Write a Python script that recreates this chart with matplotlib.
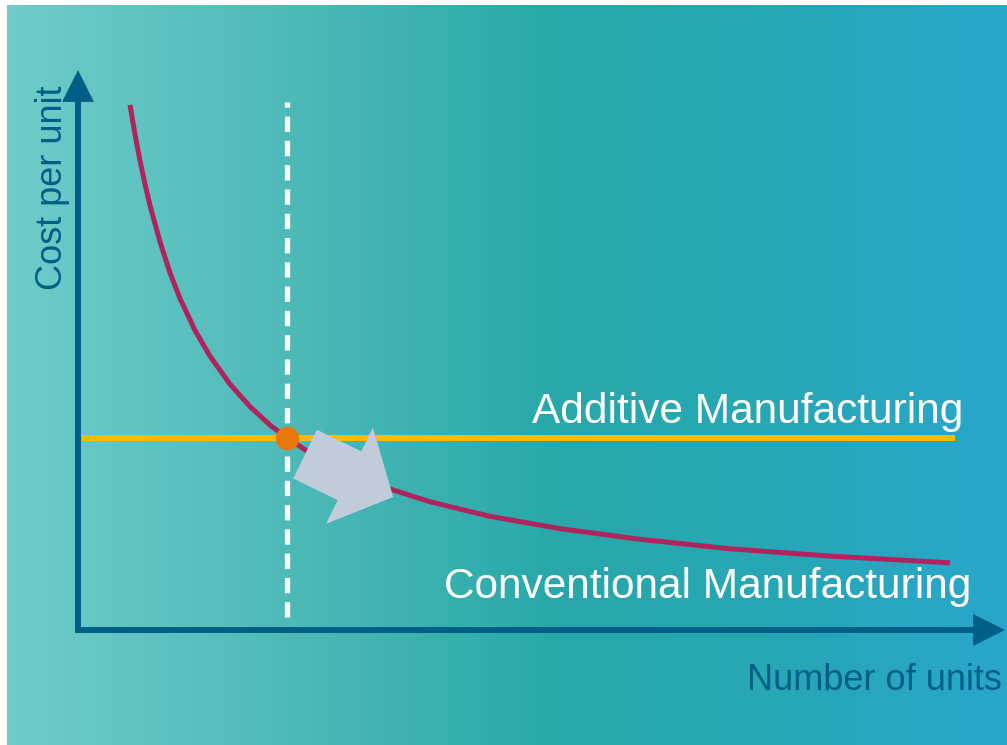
import matplotlib
matplotlib.use("Agg")
import matplotlib.pyplot as plt
import numpy as np
from matplotlib.colors import LinearSegmentedColormap
from matplotlib.patches import FancyArrowPatch

plt.rcParams['font.family'] = ['Liberation Sans', 'DejaVu Sans']

# conventional manufacturing: cost per unit vs number of units
conv_units = [5.61, 5.83, 6.15, 6.69, 7.23, 7.77, 8.85, 9.92, 11.0, 12.62, 14.24, 16.4, 18.55,
              20.71, 22.55, 25.03, 28.26, 32.58, 37.97, 44.44, 51.99, 60.63, 70.33, 81.12, 94.07]
conv_cost = [93.75, 91.6, 88.5, 83.8, 79.6, 75.8, 69.3, 63.8, 59.2, 53.5, 48.9, 43.9, 39.9,
             36.6, 34.3, 31.6, 28.75, 25.75, 22.9, 20.3, 18.1, 16.2, 14.5, 13.2, 12.0]

# additive manufacturing: flat cost
add_units = [0.4, 94.6]
add_cost = [34.3, 34.3]

break_even_units = 22.5
break_even_cost = 34.3
dash_top = 94.3
dash_bottom = 2.3

axis_color = '#005F87'
W, H = 1007, 745
fig = plt.figure(figsize=(W / 100, H / 100), dpi=100)
fig.patch.set_facecolor('white')

# gradient background
bg = fig.add_axes([7 / W, 0, 1000 / W, 740 / H])
cmap = LinearSegmentedColormap.from_list('bg', [(0.0, '#70CCC9'), (0.25, '#52BCBA'),
                                                (0.55, '#28A8A9'), (0.75, '#27A7B3'),
                                                (1.0, '#29A6CB')])
bg.imshow(np.linspace(0, 1, 256)[None, :], aspect='auto', cmap=cmap, extent=[0, 1, 0, 1])
bg.axis('off')

ax = fig.add_axes([78 / W, (H - 630) / H, 927 / W, 560 / H])
ax.set_xlim(0, 100)
ax.set_ylim(0, 100)
ax.axis('off')
ax.patch.set_alpha(0)

# axes with arrows
for start, end in [((0, -0.5), (0, 100)), ((-0.2, 0), (100, 0))]:
    ax.add_patch(FancyArrowPatch(start, end, arrowstyle='-|>,head_length=16,head_width=8',
                                 mutation_scale=1, lw=4.3, color=axis_color, shrinkA=0, shrinkB=0,
                                 capstyle='butt', joinstyle='miter', clip_on=False))

# break-even dashed line
ax.plot([break_even_units, break_even_units], [dash_bottom, dash_top], color='white', lw=3.8,
        dashes=(2.9, 1.7), solid_capstyle='butt', dash_capstyle='butt')

ax.plot(conv_units, conv_cost, color='#B0245E', lw=3.6, solid_capstyle='butt',
        solid_joinstyle='round', zorder=3)
ax.plot(add_units, add_cost, color='#FFB900', lw=4.3, solid_capstyle='butt', zorder=3)
ax.plot([break_even_units], [break_even_cost], 'o', color='#E8780C', ms=17, mec='none', zorder=5)

# block arrow
ax.add_patch(FancyArrowPatch((24.5, 31.4), (34.0, 23.75),
                             arrowstyle='simple,head_length=35,head_width=77,tail_width=39',
                             mutation_scale=1, color='#C0CDD8', lw=0, shrinkA=0, shrinkB=0,
                             zorder=6))

ax.text(95.5, 37.0, 'Additive Manufacturing', color='white', fontsize=30.5, ha='right', va='baseline')
ax.text(96.4, 5.7, 'Conventional Manufacturing', color='white', fontsize=30.5, ha='right', va='baseline')
ax.text(99.7, -10.7, 'Number of units', color=axis_color, fontsize=26, ha='right', va='baseline',
        clip_on=False)
ax.text(-2.8, 78.9, 'Cost per unit', color=axis_color, fontsize=26, ha='center', va='center',
        rotation=90, clip_on=False)

fig.savefig('out.png', dpi=100, facecolor='white')
